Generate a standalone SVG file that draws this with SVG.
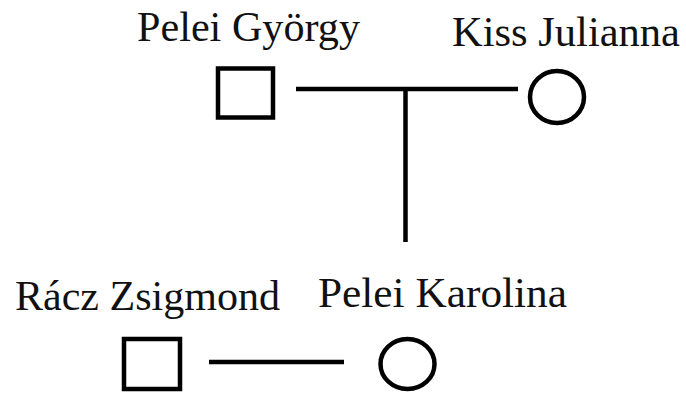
<svg xmlns="http://www.w3.org/2000/svg" width="686" height="394" viewBox="0 0 686 394">
<style>
.lbl{font-family:"Liberation Serif","Times New Roman",serif;font-size:42px;fill:#111}
.sym{fill:#fff;stroke:#000;stroke-width:4.5}
.con{stroke:#000;stroke-width:4.5;fill:none}
</style>
<rect width="686" height="394" fill="#fff"/>
<g id="connectors">
<line class="con" x1="296" y1="89" x2="518" y2="89"/>
<line class="con" x1="405.5" y1="89" x2="405.5" y2="242"/>
<line class="con" x1="209" y1="362" x2="344" y2="362"/>
</g>
<g id="pelei-gyorgy">
<text class="lbl" x="137" y="41" textLength="223" lengthAdjust="spacingAndGlyphs">Pelei György</text>
<rect class="sym" x="218" y="68.5" width="55" height="49"/>
</g>
<g id="kiss-julianna">
<text class="lbl" x="452" y="46" textLength="228" lengthAdjust="spacingAndGlyphs">Kiss Julianna</text>
<ellipse class="sym" cx="557" cy="97" rx="27" ry="26"/>
</g>
<g id="racz-zsigmond">
<text class="lbl" x="15" y="310" textLength="265" lengthAdjust="spacingAndGlyphs">Rácz Zsigmond</text>
<rect class="sym" x="124" y="339" width="56" height="50"/>
</g>
<g id="pelei-karolina">
<text class="lbl" x="318" y="307" textLength="249" lengthAdjust="spacingAndGlyphs">Pelei Karolina</text>
<ellipse class="sym" cx="407.5" cy="364" rx="27" ry="25"/>
</g>
</svg>
